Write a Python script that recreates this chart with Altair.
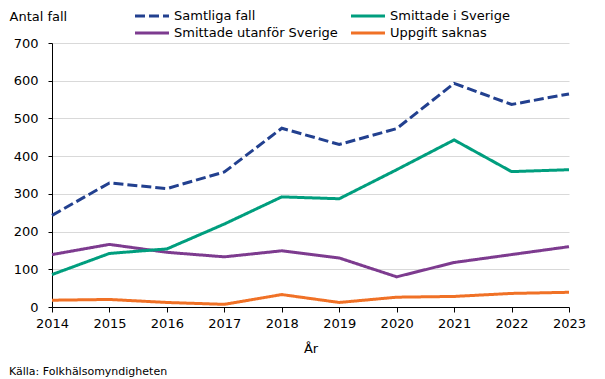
import altair as alt
import pandas as pd

years = list(range(2014, 2024))
samtliga = [243, 329, 314, 358, 474, 431, 473, 593, 537, 565]
i_sverige = [86, 142, 154, 220, 292, 287, 364, 443, 359, 364]
utanfor = [139, 166, 145, 133, 149, 130, 80, 118, 139, 160]
saknas = [18, 20, 12, 7, 33, 12, 26, 28, 36, 39]

series = ["Samtliga fall", "Smittade utanför Sverige", "Smittade i Sverige", "Uppgift saknas"]
colors = ["#22408F", "#7D3B8F", "#009E7E", "#F07126"]
dashes = [[10, 4], [1, 0], [1, 0], [1, 0]]
y_ticks = [0, 100, 200, 300, 400, 500, 600, 700]

rows = []
for name, vals in zip(series, [samtliga, utanfor, i_sverige, saknas]):
    for yr, v in zip(years, vals):
        rows.append({"year": yr, "series": name, "value": v})
df = pd.DataFrame(rows)

FONT = "DejaVu Sans"

legend = alt.Legend(
    title=None, orient="none", legendX=90, legendY=-37, columns=2,
    symbolType="M-2,0H2", symbolSize=289, symbolStrokeWidth=3,
    labelFontSize=13, labelFont=FONT, labelColor="#000000", labelLimit=400,
    rowPadding=0, columnPadding=7, labelOffset=12,
)

lines = alt.Chart(df).mark_line(strokeWidth=3).encode(
    x=alt.X("year:Q", scale=alt.Scale(domain=[2014, 2023], nice=False, zero=False),
            axis=alt.Axis(values=years, format="d", grid=False, title="År",
                          domainColor="#000000", tickColor="#000000", tickSize=5,
                          labelPadding=5, titlePadding=12, labelFlush=False)),
    y=alt.Y("value:Q", scale=alt.Scale(domain=[0, 700], nice=False),
            axis=alt.Axis(values=y_ticks, title="Antal fall", titleAngle=0,
                          titleAlign="left", titleBaseline="middle",
                          titleX=-43, titleY=-27, gridColor="#D9D9D9",
                          domainColor="#000000", tickColor="#000000", tickSize=4,
                          labelPadding=10)),
    color=alt.Color("series:N", scale=alt.Scale(domain=series, range=colors),
                    sort=series, legend=legend),
    strokeDash=alt.StrokeDash("series:N", scale=alt.Scale(domain=series, range=dashes),
                              sort=series, legend=legend),
    order=alt.Order("year:Q"),
)

chart = lines.properties(
    width=517, height=264,
    title=alt.TitleParams("Källa: Folkhälsomyndigheten", orient="bottom", anchor="start",
                          frame="group", dx=-43, fontSize=11, fontWeight="normal",
                          font=FONT, color="#000000", offset=11),
    autosize=alt.AutoSizeParams(type="none"),
    padding={"left": 44, "top": 35, "right": 28, "bottom": 72},
).configure_view(stroke=None).configure_axis(
    labelFont=FONT, titleFont=FONT, labelFontSize=13, titleFontSize=13,
    labelColor="#000000", titleColor="#000000", titleFontWeight="normal",
)

chart.save("out.html", embed_options={"renderer": "svg", "actions": False})
